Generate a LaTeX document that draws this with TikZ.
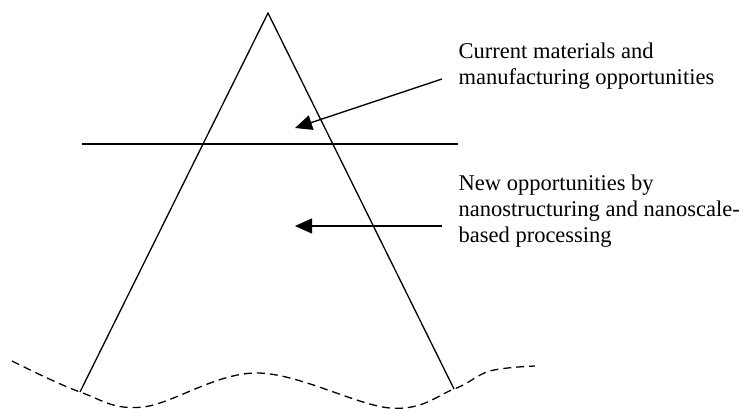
\documentclass[tikz,border=0pt]{standalone}
\usepackage{fontspec}
\setmainfont{Liberation Serif}
\usetikzlibrary{arrows.meta}

\tikzset{
    label text/.style={anchor=base west, align=left, inner sep=0pt, font=\fontsize{22.5}{26}\selectfont},
    pointer/.style={-{Triangle[length=17pt,width=15pt]}},
    waterline/.style={dash pattern=on 8pt off 5pt}
}

\begin{document}
\begin{tikzpicture}[x=1pt, y=-1pt, line width=1.3pt]
    \useasboundingbox (0,0) rectangle (739,409);

    % the iceberg and its level
    \coordinate (apex) at (268,13);
    \coordinate (baseleft) at (80,392);
    \coordinate (baseright) at (454,389);
    \coordinate (levelleft) at (82,144);
    \coordinate (levelright) at (458,144);
    \draw (baseleft) -- (apex) -- (baseright);
    \draw (levelleft) -- (levelright);
    \draw[waterline] plot[smooth, tension=0.6] coordinates {(12,361) (80,392) (143,407) (257,373) (390,408) (454,389) (490,371) (535,366)};

    % labels (base is the last line)
    \node[label text] (current) at (458,85) {Current materials and\\manufacturing opportunities};
    \node[label text] (new) at (458,242) {New opportunities by\\nanostructuring and nanoscale-\\based processing};

    \coordinate (currenttail) at (442,79);
    \coordinate (currenttip) at (295,128);
    \coordinate (newtail) at (442,226);
    \coordinate (newtip) at (295,226);
    \draw[pointer] (currenttail) -- (currenttip);
    \draw[pointer] (newtail) -- (newtip);
\end{tikzpicture}
\end{document}
